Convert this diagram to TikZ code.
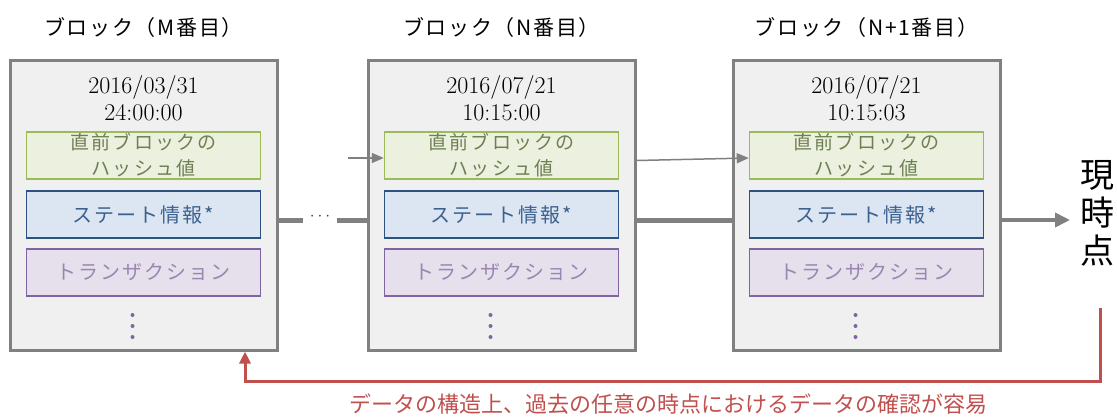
\documentclass[tikz,border=0pt]{standalone}
\usepackage{fontspec}
\newfontfamily\jp{Noto Sans CJK JP}
\newfontfamily\jpt[LetterSpace=8]{Noto Sans CJK JP}
\newfontfamily\jpb[LetterSpace=10]{Noto Sans CJK JP}
\newfontfamily\jpg[LetterSpace=12]{Noto Sans CJK JP}
\usetikzlibrary{arrows.meta,calc}
\definecolor{boxgray}{HTML}{808080}
\definecolor{boxfill}{HTML}{F0F0F0}
\definecolor{gfill}{HTML}{EBF1DE}
\definecolor{gline}{HTML}{9BBB59}
\definecolor{gtext}{HTML}{6F7F55}
\definecolor{bfill}{HTML}{DCE6F2}
\definecolor{bline}{HTML}{2C5282}
\definecolor{btext}{HTML}{3C6090}
\definecolor{pfill}{HTML}{E6E0EC}
\definecolor{pline}{HTML}{8064A2}
\definecolor{ptext}{HTML}{9A86B2}
\definecolor{redc}{HTML}{C0504D}
\tikzset{
  outerbox/.style={draw=boxgray, fill=boxfill, line width=3pt, minimum width=267pt, minimum height=290pt, inner sep=0pt},
  greenbox/.style={draw=gline, fill=gfill, line width=1.5pt, minimum width=234pt, minimum height=47pt, inner sep=0pt, text=gtext, font=\jpg\fontsize{19}{26}\selectfont, align=center},
  bluebox/.style={draw=bline, fill=bfill, line width=1.5pt, minimum width=234pt, minimum height=47pt, inner sep=0pt, text=btext, font=\jpb\fontsize{20}{24}\selectfont},
  purplebox/.style={draw=pline, fill=pfill, line width=1.5pt, minimum width=234pt, minimum height=47pt, inner sep=0pt, text=ptext, font=\jpb\fontsize{20}{24}\selectfont},
  titletext/.style={font=\jpt\fontsize{21}{24}\selectfont, inner sep=0pt},
  datetext/.style={font=\fontsize{24}{27}\selectfont, align=center, inner sep=0pt},
  vdots/.style={fill=pline, circle, inner sep=0pt, minimum size=4pt},
  thinarrow/.style={draw=boxgray, line width=1.5pt, -{Triangle[length=12pt,width=10pt]}},
  thickline/.style={draw=boxgray, line width=5pt},
  redarrow/.style={draw=redc, line width=3pt, -{Triangle[length=12pt,width=11pt]}},
}
\begin{document}
\begin{tikzpicture}[x=1pt,y=-1pt]
\useasboundingbox (0,0) rectangle (1117,416);
% blocks
\foreach \n/\cx/\title/\dA/\dB in {1/143.5/ブロック（M番目）/2016\slash 03\slash 31/24:00:00,
                                   2/501.5/ブロック（N番目）/2016\slash 07\slash 21/10:15:00,
                                   3/866.5/ブロック（N+1番目）/2016\slash 07\slash 21/10:15:03}{
  \node[titletext] (t\n) at (\cx,28) {\title};
  \node[outerbox] (b\n) at (\cx,205) {};
  \node[datetext] (d\n) at (\cx,98.5) {\dA\\\dB};
  \node[greenbox] (g\n) at (\cx,155.5) {直前ブロックの\\ハッシュ値};
  \node[bluebox] (s\n) at (\cx,214.5) {ステート情報*};
  \node[purplebox] (p\n) at (\cx,272.5) {トランザクション};
  \node[vdots] (v\n a) at (\cx-11,315) {};
  \node[vdots] (v\n b) at (\cx-11,326) {};
  \node[vdots] (v\n c) at (\cx-11,337) {};
}
% thin arrows between hash boxes
\coordinate (h0) at (348,158);
\draw[thinarrow] (h0) -- (h0 -| g2.west);
\draw[thinarrow] ([yshift=-2.5pt]b2.east |- h0) -- (h0 -| g3.west);
% thick connectors
\node[font=\fontsize{18}{20}\selectfont, text=black!75, inner sep=0pt] (dots) at (320,217) {$\cdots$};
\coordinate (dl) at (303,220);
\coordinate (dr) at (337,220);
\draw[thickline] ([yshift=-15pt]b1.east) -- (dl);
\draw[thickline] (dr) -- ([yshift=-15pt]b2.west);
\draw[thickline] ([yshift=-15pt]b2.east) -- ([yshift=-15pt]b3.west);
\node[font=\jp\fontsize{34}{38}\selectfont, align=center, inner sep=0pt] (now) at (1097,213) {現\\時\\点};
\coordinate (ne) at (1070,220);
\draw[thickline, -{Triangle[length=15pt,width=14pt]}, line width=4pt] ([yshift=-15pt]b3.east) -- (ne);
% red feedback arrow
\coordinate (r0) at (1100,308);
\coordinate (r1) at (1100,381);
\draw[redarrow] (r0) -- (r1) -| ([xshift=101.5pt]b1.south);
\node[font=\jp\fontsize{22}{24}\selectfont, text=redc, inner sep=0pt] (note) at (668,404) {データの構造上、過去の任意の時点におけるデータの確認が容易};
\end{tikzpicture}
\end{document}
